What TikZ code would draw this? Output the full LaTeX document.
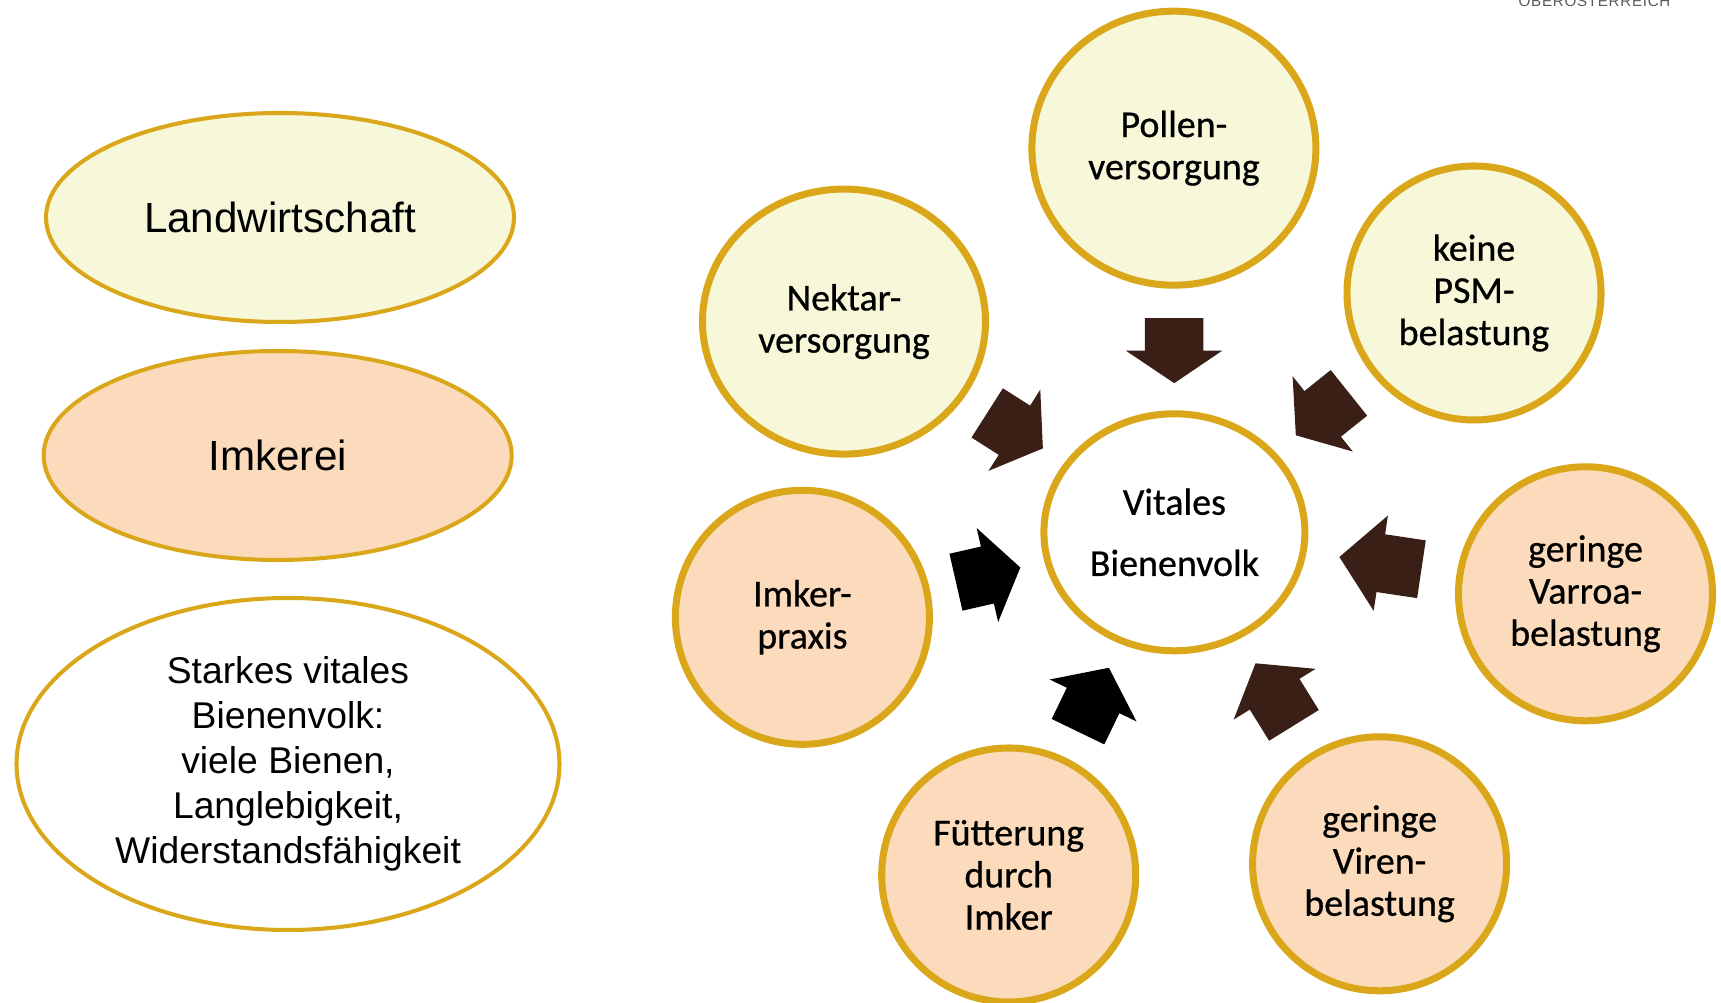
\documentclass[tikz,border=0pt]{standalone}
\usepackage{fontspec}
\setmainfont{Carlito}
\newfontfamily\calibri{Carlito}[FakeBold=0.6]
\newfontfamily\arial{Liberation Sans}
\newfontfamily\arialweit[LetterSpace=5]{Liberation Sans}
\usepackage{tikz}
\usetikzlibrary{shapes.geometric, shapes.arrows}
\definecolor{gold}{RGB}{218,166,26}
\definecolor{hellgelb}{RGB}{247,247,218}
\definecolor{pfirsich}{RGB}{251,219,187}
\definecolor{braun}{RGB}{58,31,22}

\begin{document}
\begin{tikzpicture}[
    feld/.style={ellipse, draw=gold, line width=1.15pt, align=center, inner sep=0pt, font=\arial\fontsize{12}{14}\selectfont},
    kreis/.style={ellipse, draw=gold, line width=2pt, align=center, inner sep=0pt, minimum width=2.54cm, minimum height=2.54cm, font=\fontsize{10.8}{12}\selectfont\addfontfeatures{FakeBold=0.6}},
    pfeil/.style={single arrow, fill=braun, draw=none, inner xsep=0pt, inner ysep=0.285cm, minimum width=0pt, single arrow head extend=0.19cm, minimum height=0.66cm, single arrow tip angle=110, anchor=tip, sloped, allow upside down}]
        \useasboundingbox (0,0) rectangle (17.21,-10.03);
        \clip (0,0) rectangle (17.21,-10.03);
        \node[font=\arialweit\fontsize{4.3}{5}\selectfont, text=black!65, anchor=base, inner sep=0pt] (ooe) at (15.945,-0.067) {OBERÖSTERREICH}; % logo cortado
        % elipses da esquerda
        \node[feld, fill=hellgelb, minimum width=4.68cm, minimum height=2.09cm] (landw) at (2.80,-2.175) {Landwirtschaft};
        \node[feld, fill=pfirsich, minimum width=4.68cm, minimum height=2.09cm] (imkerei) at (2.777,-4.555) {Imkerei};
        \node[feld, fill=white, minimum width=5.43cm, minimum height=3.32cm, font=\arial\fontsize{10.6}{12.8}\selectfont] (starkes) at (2.88,-7.64) {Starkes vitales\\Bienenvolk:\\viele Bienen,\\Langlebigkeit,\\Widerstandsfähigkeit};
        % circulos
        \node[kreis, fill=white, minimum width=2.61cm, minimum height=2.37cm, font=\fontsize{10.8}{17.4}\selectfont\addfontfeatures{FakeBold=0.6}] (vital) at (11.744,-5.323) {Vitales\\Bienenvolk};
        \node[kreis, fill=hellgelb, minimum width=2.84cm, minimum height=2.74cm] (pollen) at (11.739,-1.482) {Pollen-\\versorgung};
        \node[kreis, fill=hellgelb] (psm) at (14.74,-2.93) {keine\\PSM-\\belastung};
        \node[kreis, fill=hellgelb, minimum width=2.83cm, minimum height=2.65cm] (nektar) at (8.44,-3.216) {Nektar-\\versorgung};
        \node[kreis, fill=pfirsich] (imker) at (8.024,-6.173) {Imker-\\praxis};
        \node[kreis, fill=pfirsich] (varroa) at (15.855,-5.938) {geringe\\Varroa-\\belastung};
        \node[kreis, fill=pfirsich] (fuetter) at (10.087,-8.75) {Fütterung\\durch\\Imker};
        \node[kreis, fill=pfirsich] (viren) at (13.796,-8.638) {geringe\\Viren-\\belastung};
        % setas para o centro
        \path (pollen.center) -- (vital.center) node[pfeil, pos=0.614, minimum height=0.65cm, single arrow tip angle=112] (p1) {};
        \path (nektar.center) -- (vital.center) node[pfeil, pos=0.604] (p2) {};
        \path (psm.center) -- (vital.center) node[pfeil, pos=0.597, minimum height=0.68cm, single arrow tip angle=109] (p3) {};
        \path (imker.center) -- (vital.center) node[pfeil, pos=0.588, fill=black] (p4) {};
        \path (varroa.center) -- (vital.center) node[pfeil, pos=0.601, minimum height=0.83cm, single arrow tip angle=98] (p5) {};
        \path (fuetter.center) -- (vital.center) node[pfeil, pos=0.607, fill=black, minimum height=0.71cm, single arrow tip angle=106] (p6) {};
        \path (viren.center) -- (vital.center) node[pfeil, pos=0.607, minimum height=0.73cm, single arrow tip angle=106] (p7) {};
\end{tikzpicture}
\end{document}
